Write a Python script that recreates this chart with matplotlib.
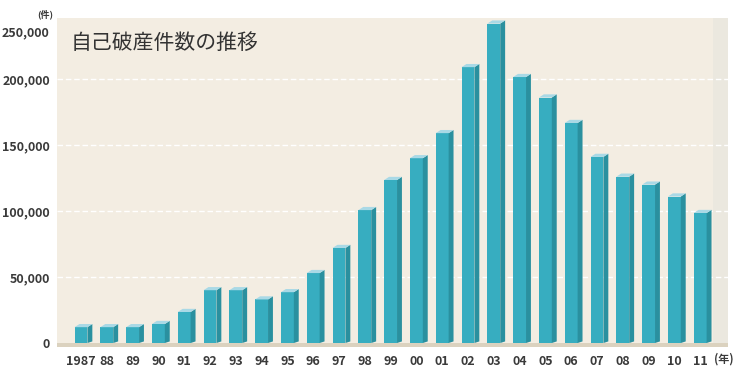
import numpy as np
import matplotlib.pyplot as plt
from matplotlib.patches import Polygon
import matplotlib.transforms as mtransforms

plt.rcParams['font.family'] = ['Noto Sans CJK JP', 'DejaVu Sans']

years = ['1987', '88', '89', '90', '91', '92', '93', '94', '95', '96', '97', '98',
         '99', '00', '01', '02', '03', '04', '05', '06', '07', '08', '09', '10', '11']
cases = [12000, 12000, 12000, 14400, 23500, 40000, 40000, 33000, 38500, 53000,
         72000, 100700, 123500, 140000, 159000, 209000, 242000, 201500, 186000,
         166700, 141000, 126000, 120000, 111000, 98500]
yticks = [0, 50000, 100000, 150000, 200000]

front = '#37adc0'
side = '#2a909f'
top = '#a9d9e6'
bg = '#f3ede2'
txt = '#3a3a3a'

fig = plt.figure(figsize=(7.47, 3.84), dpi=100)
ax = fig.add_axes([0.0763, 0.0964, 0.8983, 0.8566])
ax.set_facecolor(bg)

x = np.arange(len(years))
w = 0.5
dx = 0.19
dy = 2400

ax.set_xlim(-0.93, 25.08)
ax.set_ylim(-3000, 246200)

# floor strip, right wall and grid
ax.axvspan(24.5, 25.08, color='#ebe8df', zorder=0.5, lw=0)
ax.axhspan(-3000, 0, color='#dbd2bf', zorder=1, lw=0)
for v in yticks[1:]:
    ax.axhline(v, color='white', lw=1.0, ls=(0, (4, 2)), zorder=1)

ax.bar(x, cases, width=w, color=front, zorder=3, linewidth=0)
for xi, v in zip(x, cases):
    r = xi + w / 2
    l = xi - w / 2
    ax.add_patch(Polygon([(r, 0), (r + dx, dy * 0.5), (r + dx, v + dy), (r, v)],
                         closed=True, facecolor=side, edgecolor='none', zorder=3))
    ax.add_patch(Polygon([(l, v), (r, v), (r + dx, v + dy), (l + dx, v + dy)],
                         closed=True, facecolor=top, edgecolor='none', zorder=3))

for s in ax.spines.values():
    s.set_visible(False)

ax.set_yticks(yticks)
ax.set_yticklabels(['{:,}'.format(v) for v in yticks], fontweight='bold')
ax.set_xticks(x)
ax.set_xticklabels(years, fontweight='bold')
ax.tick_params(length=0, labelsize=9, colors=txt, pad=5)
ax.tick_params(axis='x', pad=6)

ax.text(-0.012, 0.955, '250,000', transform=ax.transAxes, ha='right', va='center',
        fontsize=9, color=txt, fontweight='bold')
ax.text(-0.006, 1.01, '(件)', transform=ax.transAxes, ha='right', va='center',
        fontsize=6.5, color=txt, fontweight='bold')
trans = mtransforms.blended_transform_factory(ax.transData, ax.transAxes)
ax.text(24.55, -0.018, '(年)', transform=trans, ha='left', va='top',
        fontsize=8, color=txt, fontweight='bold')
ax.text(0.02, 0.925, '自己破産件数の推移', transform=ax.transAxes, ha='left', va='center',
        fontsize=15, color='#333333')

fig.savefig('out.png', dpi=100, facecolor='white')
